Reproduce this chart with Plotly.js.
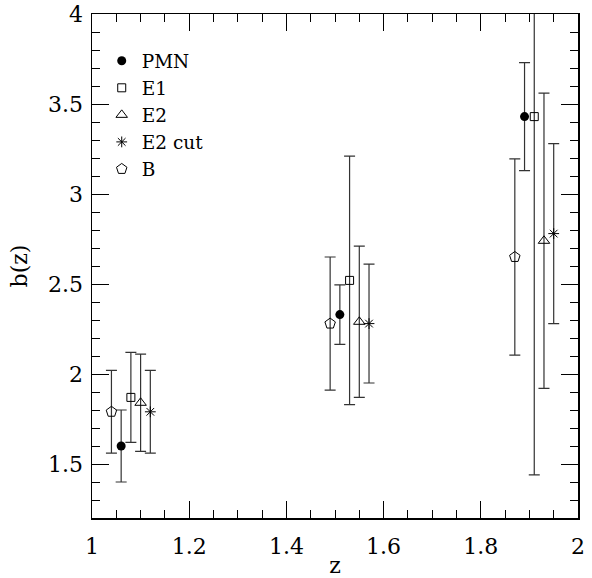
<!DOCTYPE html>
<html>
<head>
<meta charset="utf-8">
<script src="https://cdn.plot.ly/plotly-3.0.1.min.js"></script>
<style>html,body{margin:0;padding:0;background:#fff;}#chart{width:592px;height:578px;}</style>
</head>
<body>
<div id="chart"></div>
<script>
// Data
const seriesNames = ["PMN", "E1", "E2", "E2 cut", "B"];
const zPMN = [1.06, 1.51, 1.89];
const bPMN = [1.60, 2.33, 3.43];
const ePMN = [0.20, 0.165, 0.30];

const zE1 = [1.08, 1.53, 1.91];
const bE1 = [1.87, 2.52, 3.43];
const eE1 = [0.25, 0.69, 1.99];

const zE2 = [1.10, 1.55, 1.93];
const bE2 = [1.84, 2.29, 2.74];
const eE2 = [0.27, 0.42, 0.82];

const zE2cut = [1.12, 1.57, 1.95];
const bE2cut = [1.79, 2.28, 2.78];
const eE2cut = [0.23, 0.33, 0.50];

const zB = [1.04, 1.49, 1.87];
const bB = [1.79, 2.28, 2.65];
const eB = [0.23, 0.37, 0.545];

const xTicks = [1, 1.2, 1.4, 1.6, 1.8, 2];
const xTickText = ["1", "1.2", "1.4", "1.6", "1.8", "2"];
const yTicks = [1.5, 2, 2.5, 3, 3.5, 4];
const yTickText = ["1.5", "2", "2.5", "3", "3.5", "4"];

const errStyle = (arr) => ({type: 'data', array: arr, visible: true, color: '#333', thickness: 1.2, width: 5.5});

const traces = [
  {x: zPMN, y: bPMN, error_y: errStyle(ePMN), name: seriesNames[0],
   marker: {symbol: 'circle', size: 9, color: '#000'}},
  {x: zE1, y: bE1, error_y: errStyle(eE1), name: seriesNames[1],
   marker: {symbol: 'square-open', size: 8, color: '#000', line: {width: 1}}},
  {x: zE2, y: bE2, error_y: errStyle(eE2), name: seriesNames[2],
   marker: {symbol: 'triangle-up-open', size: 10, color: '#000', line: {width: 1}}},
  {x: zE2cut, y: bE2cut, error_y: errStyle(eE2cut), name: seriesNames[3],
   marker: {symbol: 'asterisk-open', size: 9, color: '#000', line: {width: 1, color: '#000'}}},
  {x: zB, y: bB, error_y: errStyle(eB), name: seriesNames[4],
   marker: {symbol: 'pentagon-open', size: 11, color: '#000', line: {width: 1}}}
].map(t => Object.assign({type: 'scatter', mode: 'markers', cliponaxis: true}, t));

const fam = '"DejaVu Serif", "Liberation Serif", serif';

const layout = {
  width: 592, height: 578,
  margin: {l: 92, r: 14, t: 14, b: 60},
  paper_bgcolor: '#fff', plot_bgcolor: '#fff',
  font: {family: fam, color: '#000', size: 20},
  showlegend: true,
  legend: {x: 0.02, y: 0.944, xanchor: 'left', yanchor: 'top', bgcolor: 'rgba(0,0,0,0)',
           font: {family: fam, size: 18.5, color: '#000'}, itemwidth: 30},
  xaxis: {
    range: [1, 2], tickvals: xTicks, ticktext: xTickText,
    ticks: 'inside', ticklen: 17, tickwidth: 1, tickcolor: '#000',
    minor: {dtick: 0.05, ticks: 'inside', ticklen: 8, tickwidth: 1, tickcolor: '#000'},
    showline: true, linecolor: '#000', linewidth: 1.5, mirror: 'ticks',
    showgrid: false, zeroline: false, automargin: false,
    ticklabelstandoff: 8,
    tickfont: {family: fam, size: 22, color: '#000'},
    title: {text: 'z', font: {family: fam, size: 22, color: '#000'}, standoff: 10}
  },
  yaxis: {
    range: [1.2, 4], tickvals: yTicks, ticktext: yTickText,
    ticks: 'inside', ticklen: 17, tickwidth: 1, tickcolor: '#000',
    minor: {dtick: 0.1, ticks: 'inside', ticklen: 8, tickwidth: 1, tickcolor: '#000'},
    showline: true, linecolor: '#000', linewidth: 1.5, mirror: 'ticks',
    showgrid: false, zeroline: false, automargin: false,
    ticklabelstandoff: 3,
    tickfont: {family: fam, size: 22, color: '#000'},
    title: {text: 'b(z)', font: {family: fam, size: 22, color: '#000'}, standoff: 14}
  }
};

Plotly.newPlot('chart', traces, layout, {displayModeBar: false, staticPlot: true});
</script>
</body>
</html>
